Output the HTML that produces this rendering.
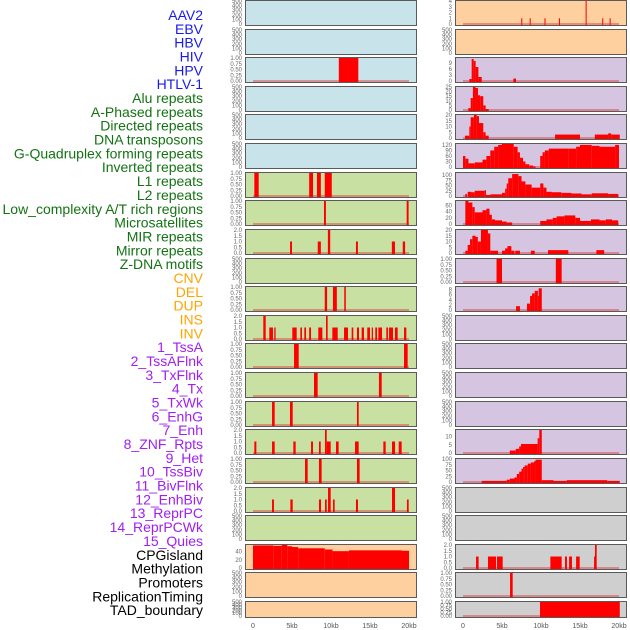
<!DOCTYPE html>
<html><head><meta charset="utf-8">
<style>
html,body{margin:0;padding:0;background:#fff;}
svg{display:block;}
text{font-family:"Liberation Sans",sans-serif;}
</style></head>
<body>
<svg id="chart" width="630" height="630" viewBox="0 0 630 630" xmlns="http://www.w3.org/2000/svg"></svg>
<script>
// ---- data ----
const trackLabels = ["AAV2","EBV","HBV","HIV","HPV","HTLV-1","Alu repeats","A-Phased repeats","Directed repeats","DNA transposons","G-Quadruplex forming repeats","Inverted repeats","L1 repeats","L2 repeats","Low_complexity A/T rich regions","Microsatellites","MIR repeats","Mirror repeats","Z-DNA motifs","CNV","DEL","DUP","INS","INV","1_TssA","2_TssAFlnk","3_TxFlnk","4_Tx","5_TxWk","6_EnhG","7_Enh","8_ZNF_Rpts","9_Het","10_TssBiv","11_BivFlnk","12_EnhBiv","13_ReprPC","14_ReprPCWk","15_Quies","CPGisland","Methylation","Promoters","ReplicationTiming","TAD_boundary"];
const labelGroups = [0,0,0,0,0,0,1,1,1,1,1,1,1,1,1,1,1,1,1,2,2,2,2,2,3,3,3,3,3,3,3,3,3,3,3,3,3,3,3,4,4,4,4,4];
const groupColors = ["#1a1aee","#137313","#ffa500","#a020f0","#000000"];
const panelColors = ["#c8e3ea","#c8e0a2","#fecf9f","#d5c5e1","#cfcfcf"];
const panelGroup = [0,0,0,0,0,0,1,1,1,1,1,1,1,1,1,1,1,1,1,2,2,2, 2,2,3,3,3,3,3,3,3,3,3,3,3,3,3,3,3,4,4,4,4,4];
const xTickValues = [0,5,10,15,20];
const xTickLabels = ["0","5kb","10kb","15kb","20kb"];

const emptyTicks = [0,100,200,300,400,500];
const unitTicks = [0,0.25,0.5,0.75,1];
const twoTicks = [0,0.5,1,1.5,2];

const segHBV = [[11.0,13.5,1]];
const segAlu = [[0.17,0.73,1],[7.2,7.7,1],[8.2,8.7,1],[9.2,10.1,1]];
const segAPhased = [[9.1,9.35,1],[19.7,19.95,1]];
const segDirected = [[4.75,5.0,1],[8.3,8.7,1],[9.6,9.9,2],[13.2,13.45,1],[17.8,18.2,1],[19.2,19.5,1]];
const segGQuad = [[9.2,9.5,1],[10.25,10.75,1],[11.7,11.9,1]];
const segInverted = [[1.32,1.63,2],[2.09,2.56,1],[2.73,2.9,1],[5.04,5.6,1],[6.07,6.28,1],[6.58,6.8,1],[7.2,7.44,1],[8.37,8.89,1],[9.36,9.57,2],[10.17,10.86,1],[11.67,12.18,1],[12.65,12.86,1],[13.33,13.59,1],[13.93,14.23,1],[14.65,15.0,1],[15.22,15.38,1],[15.68,15.9,1],[16.07,16.54,1],[17.09,17.3,1],[17.44,17.95,1],[18.2,18.55,1],[19.36,19.66,1]];
const segL1 = [[5.26,5.86,1],[19.36,19.83,1]];
const segL2 = [[7.82,8.29,1],[16.15,16.5,1]];
const segLowComplex = [[2.44,2.78,1],[4.74,5.09,1],[13.33,13.55,1]];
const segMicro = [[0.17,0.43,1],[2.44,2.78,1],[5.17,5.47,1],[7.44,7.69,1],[8.46,8.68,1],[9.23,9.45,2],[9.45,9.96,1],[10.64,10.98,1],[13.08,13.55,1],[16.71,17.01,1],[17.82,18.21,1],[18.68,19.06,1]];
const segMIR = [[6.67,7.01,1],[8.46,8.8,1],[13.33,13.67,1]];
const segMirror = [[2.44,2.69,1],[4.79,5.09,1],[8.46,8.72,1],[9.23,9.45,1],[9.62,9.96,2],[10.26,10.47,1],[13.2,13.46,1],[17.82,18.21,2],[19.74,19.96,1]];
const segCNV = [[0,2.6,55],[2.6,3.7,54],[3.7,4.4,56],[4.4,5.0,53],[5.0,5.8,51],[5.8,9.2,48],[9.2,10.2,45],[10.2,12.3,41],[12.3,19.1,43],[19.1,20,42]];
const segINS = [[7.47,7.6,1],[8.55,8.68,1],[10.45,10.58,1],[12.3,12.43,1],[15.72,15.85,4],[17.85,17.98,1],[18.8,18.93,1]];
const segTssA = [[0.81,1.11,1],[1.11,1.37,11],[1.37,1.62,10],[1.62,1.97,7],[1.97,2.4,2],[6.45,6.8,1.2]];
const segTssAFlnk = [[0.68,0.98,2],[0.98,1.27,13],[1.27,1.6,25],[1.6,1.92,24],[1.92,2.2,16],[2.2,2.6,15],[2.6,2.9,5],[2.9,3.3,1]];
const segTxFlnk = [[0.26,0.81,2],[0.81,0.98,10],[0.98,1.4,18],[1.4,1.75,20],[1.75,2.05,19],[2.05,2.6,13],[2.6,2.9,5],[2.9,3.3,2],[11.8,15.0,3],[16.9,18.6,3],[18.6,19.0,4],[19.0,20.1,3]];
const segTx = [[0,0.3,60],[0.3,0.7,45],[0.7,1.5,20],[1.5,2.5,25],[2.5,3,40],[3,3.5,60],[3.5,4,90],[4,4.5,110],[4.5,5,120],[5,6.5,125],[6.5,7,110],[7,7.3,80],[7.3,7.7,50],[7.7,8,30],[8,8.5,15],[8.5,9,8],[9,9.3,3],[9.9,10.2,60],[10.2,10.5,80],[10.5,11,90],[11,13.5,100],[13.5,14.5,100],[14.5,15,110],[15,16.5,120],[16.5,17.5,115],[17.5,19.5,110],[19.5,20,120]];
const segTxWk = [[0.3,0.5,10],[0.6,1.1,20],[1.1,1.5,18],[1.5,2.8,25],[2.8,2.95,28],[2.95,3.5,5],[3.5,5.0,8],[5.0,5.4,15],[5.4,5.6,35],[5.6,5.8,60],[5.8,6.3,85],[6.3,7.1,105],[7.1,7.5,95],[7.5,8.0,70],[8.0,8.8,55],[8.8,9.9,40],[9.9,10.3,60],[10.3,10.7,40],[10.7,11.4,20],[11.4,12.6,18],[12.6,13.9,15],[13.9,15.2,12],[15.2,16.5,8],[16.5,18.6,13],[18.6,19.9,10]];
const segEnhG = [[0.3,0.7,75],[0.7,1.2,70],[1.2,1.5,55],[1.5,2.5,38],[2.5,3.0,45],[3.0,3.4,50],[3.4,3.7,30],[3.7,4.1,15],[4.1,5.0,12],[5.0,5.6,8],[5.6,6.3,5],[9.9,10.7,10],[10.7,11.5,15],[11.5,12.0,20],[12.0,13.0,25],[13.0,14.4,28],[14.4,15.0,20],[15.0,16.4,10],[16.4,17.5,15],[17.5,18.3,12],[18.3,19.1,15],[19.1,19.9,12]];
const segEnh = [[0.3,0.6,2],[0.6,0.9,7],[0.9,1.2,12],[1.2,1.6,15],[1.6,1.9,14],[1.9,2.3,10],[2.3,3.2,20],[3.2,3.5,17],[3.5,4.5,2],[5.0,5.4,2],[5.4,5.7,4],[5.7,6.2,6],[6.2,6.6,2],[6.7,7.3,2],[8.7,9.2,2],[10.9,13.5,2.5],[17.1,18.1,2.5]];
const segZNF = [[4.3,5.0,1],[11.9,12.65,1]];
const segHet = [[6.8,7.3,1.5],[8.2,8.6,2.5],[8.6,8.85,5.5],[8.85,9.2,6.5],[9.2,9.6,7.5],[9.6,9.7,5.5],[9.7,10.1,8.5]];
const segReprPC = [[6.0,6.76,1.5],[6.76,7.2,2.5],[7.2,7.44,4],[7.44,9.57,5.5],[9.57,9.78,9],[9.78,10.1,14]];
const segReprPCWk = [[2.4,5.6,5],[5.6,6.0,10],[6.0,6.6,15],[6.6,6.9,20],[6.9,7.2,35],[7.2,7.5,45],[7.5,7.7,58],[7.7,7.9,65],[7.9,8.3,72],[8.3,8.7,80],[8.7,9.1,85],[9.1,9.3,90],[9.3,10.1,97],[10.1,11.6,8],[11.6,13.3,5],[13.3,18.5,8],[18.5,20.1,5]];
const segMethyl = [[1.67,2.0,1],[3.2,4.23,1],[4.36,5.09,1],[11.2,12.65,1],[13.08,13.33,1],[13.6,13.97,1],[14.5,14.96,1],[16.8,16.92,1],[16.92,17.14,2]];
const segPromoters = [[6.03,6.37,1]];
const segRepTiming = [[9.87,20.1,1]];

// panel -> [segments, ymax, ticks]
const panelSegs = [null,null,segHBV,null,null,null,segAlu,segAPhased,segDirected,null,segGQuad,segInverted,segL1,segL2,segLowComplex,segMicro,segMIR,segMirror,null,segCNV,null,null,
  segINS,null,segTssA,segTssAFlnk,segTxFlnk,segTx,segTxWk,segEnhG,segEnh,segZNF,segHet,null,null,null,null,segReprPC,segReprPCWk,null,null,segMethyl,segPromoters,segRepTiming];
const panelYMax = [500,500,1,500,500,500,1,1,2,500,1,2,1,1,1,2,1,2,500,56,500,500,
  4,500,11.5,25,20,125,110,75,20,1,9,500,500,500,500,14,100,500,500,2,1,1];
const panelTicks = [emptyTicks,emptyTicks,unitTicks,emptyTicks,emptyTicks,emptyTicks,unitTicks,unitTicks,twoTicks,emptyTicks,unitTicks,twoTicks,unitTicks,unitTicks,unitTicks,twoTicks,unitTicks,twoTicks,emptyTicks,[0,20,40],emptyTicks,emptyTicks,
  [0,1,2,3,4],emptyTicks,[0,3,6,9],[0,5,10,15,20,25],[0,5,10,15,20],[0,30,60,90,120],[0,25,50,75,100],[0,20,40,60],[0,5,10,15,20],unitTicks,[0,2,4,6,8],emptyTicks,emptyTicks,emptyTicks,emptyTicks,[0,5,10],[0,25,50,75,100],emptyTicks,emptyTicks,twoTicks,unitTicks,unitTicks];

// ---- drawing ----
const NS = "http://www.w3.org/2000/svg";
const svg = document.getElementById("chart");
function mk(tag, attrs, parent){ const e=document.createElementNS(NS,tag); for(const k in attrs) e.setAttribute(k,attrs[k]); (parent||svg).appendChild(e); return e; }
const colLeft = [245,455];
const PW = 171, ROWH = 28.62;
function xScale(col, kb){ return colLeft[col] + 8 + kb*7.8; }
function fmtTick(t, ticks){ if(ticks===unitTicks) return t.toFixed(2); if(ticks===twoTicks) return t.toFixed(1); return String(t); }

// labels
trackLabels.forEach((lab,i)=>{
  const t = mk("text",{x:203,y:15+i*13.84+5,"text-anchor":"end","font-size":"14",fill:groupColors[labelGroups[i]]});
  t.textContent = lab;
  
  
});

for(let p=0;p<44;p++){
  const col = p<22?0:1, row = p%22;
  const top = Math.round(row*ROWH)+0.5;
  const h = row===21?16:25;
  const g = mk("g",{});
  
  
  const bg = mk("rect",{x:colLeft[col]+0.5,y:top,width:PW,height:h,fill:panelColors[panelGroup[p]],stroke:"#5a5a5a","stroke-width":1},g);
  
  
  const y0 = top + h - 1.5, yTop = top + 0.5;
  const ymax = panelYMax[p];
  const yScale = v => y0 - (v/ymax)*(y0-yTop);
  const ticks = panelTicks[p];
  ticks.forEach(t=>{
    const tx = mk("text",{x:colLeft[col]-3,y:yScale(t)+2,"text-anchor":"end","font-size":"6",fill:"#666"},g);
    tx.textContent = fmtTick(t,ticks);
    
    
  });
  const segs = panelSegs[p];
  if(segs){
    const base = mk("line",{x1:xScale(col,0),x2:xScale(col,20),y1:y0,y2:y0,stroke:"rgba(220,40,40,0.55)","stroke-width":1.5},g);
    
    
    segs.forEach(s=>{
      const x1 = xScale(col,s[0]), x2 = xScale(col,s[1]);
      const r = mk("rect",{x:x1,y:yScale(s[2]),width:Math.max(1,x2-x1),height:y0-yScale(s[2])+1,fill:"#ff0000"},g);
      
      
    });
  }
}
// x axis tick labels
[0,1].forEach(col=>{
  xTickValues.forEach((v,i)=>{
    const t = mk("text",{x:xScale(col,v),y:628,"text-anchor":"middle","font-size":"7",fill:"#555"});
    t.textContent = xTickLabels[i];
    
    
  });
});
</script>
</body></html>
